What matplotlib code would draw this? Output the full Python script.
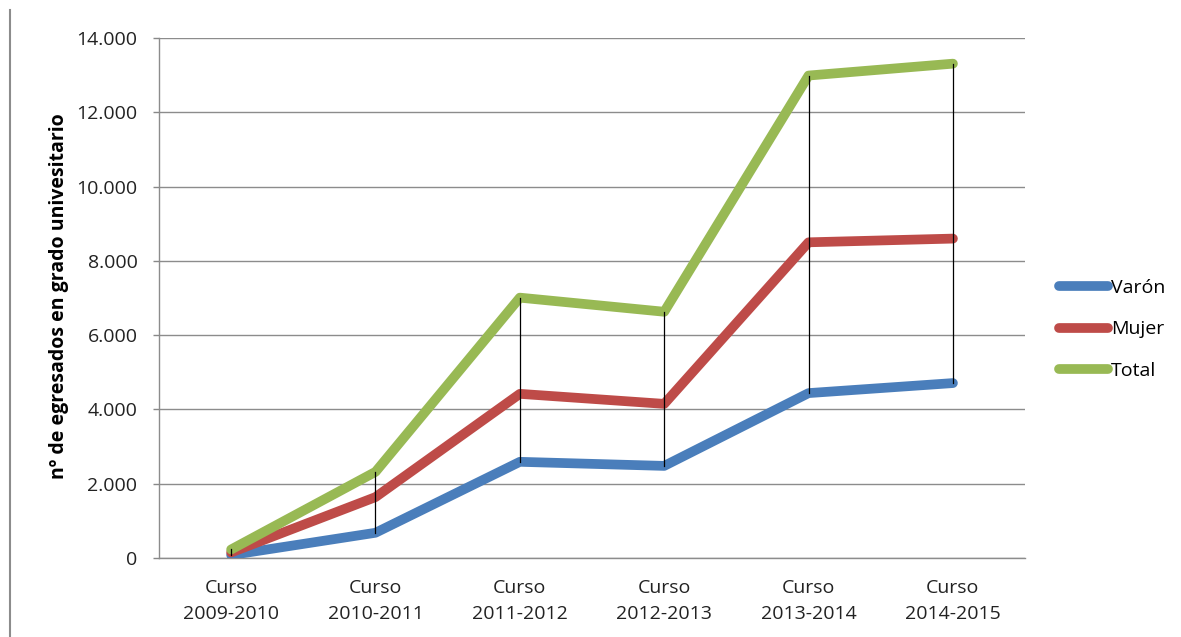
import matplotlib
matplotlib.use("Agg")
import matplotlib.pyplot as plt
from matplotlib.lines import Line2D
from matplotlib.ticker import FuncFormatter

categories = ["Curso\n2009-2010", "Curso\n2010-2011", "Curso\n2011-2012",
              "Curso\n2012-2013", "Curso\n2013-2014", "Curso\n2014-2015"]
varon = [80, 680, 2590, 2480, 4440, 4710]
mujer = [150, 1640, 4420, 4150, 8500, 8600]
total = [230, 2320, 7010, 6630, 12990, 13310]
series_names = ["Varón", "Mujer", "Total"]
colors = ["#4A7EBB", "#BE4B48", "#98B954"]

plt.rcParams['font.family'] = ['Open Sans', 'DejaVu Sans']

fig = plt.figure(figsize=(11.81, 6.37), dpi=100)
ax = fig.add_axes([0.1346, 0.124, 0.7334, 0.8163])

x = list(range(len(categories)))
# high-low lines
for xi, lo, hi in zip(x, varon, total):
    ax.plot([xi, xi], [min(lo, hi), max(lo, hi)], color="black", lw=0.9, zorder=4)

for vals, name, c in zip([varon, mujer, total], series_names, colors):
    ax.plot(x, vals, color=c, lw=7, solid_capstyle="round", solid_joinstyle="round",
            label=name, zorder=3)

ax.set_xlim(-0.5, len(categories) - 0.5)
ax.set_ylim(0, 14000)
ax.set_yticks(range(0, 14001, 2000))
ax.yaxis.set_major_formatter(FuncFormatter(lambda v, p: f"{int(v):,}".replace(",", ".")))
ax.set_xticks(x)
ax.set_xticklabels(categories, fontsize=14, color="#222222", linespacing=1.55)
ax.tick_params(axis='y', labelsize=14, colors="#222222", length=4.5, color="#888888",
               width=1, pad=11)
ax.tick_params(axis='x', length=0, pad=15)
ax.grid(axis='y', color="#8c8c8c", lw=1)
ax.set_axisbelow(True)
for s in ["top", "right"]:
    ax.spines[s].set_visible(False)
for s in ["left", "bottom"]:
    ax.spines[s].set_color("#8c8c8c")
    ax.spines[s].set_linewidth(1)

ax.set_ylabel("nº de egresados en grado univesitario", fontsize=14, fontweight="bold")
ax.yaxis.set_label_coords(-0.104, 0.503)

handles = [Line2D([0], [0], color=c, lw=7, solid_capstyle="round") for c in colors]
leg = fig.legend(handles, series_names, loc="center left", bbox_to_anchor=(0.897, 0.483),
                 frameon=False, fontsize=14, handlelength=2.5, handletextpad=0.15,
                 labelspacing=1.2, borderpad=0, borderaxespad=0)

# left frame line
fig.add_artist(Line2D([0.0085, 0.0085], [0.0, 0.985], color="#8c8c8c", lw=1.5,
                      transform=fig.transFigure))

fig.savefig("out.png", dpi=100, facecolor="white")
